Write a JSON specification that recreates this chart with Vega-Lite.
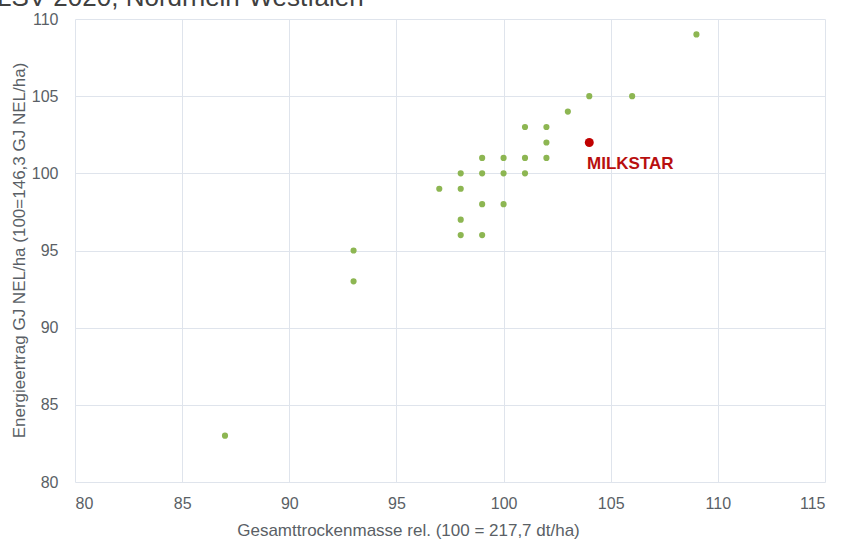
{
  "$schema": "https://vega.github.io/schema/vega-lite/v6.json",
  "width": 750,
  "height": 463,
  "autosize": {"type": "none"},
  "padding": {"left": 75, "top": 19, "right": 17, "bottom": 68},
  "background": "white",
  "title": {
    "text": "LSV 2020, Nordrhein-Westfalen",
    "anchor": "start",
    "frame": "group",
    "dx": -78,
    "offset": 0,
    "baseline": "top",
    "fontSize": 26,
    "font": "Liberation Sans",
    "fontWeight": "normal",
    "color": "#404040"
  },
  "config": {
    "view": {"stroke": null},
    "font": "Liberation Sans",
    "axis": {
      "grid": true,
      "gridColor": "#dfe4ec",
      "gridWidth": 1,
      "domain": false,
      "ticks": false,
      "labelFontSize": 16,
      "labelColor": "#5a5f66",
      "labelFont": "Liberation Sans",
      "titleFont": "Liberation Sans",
      "titleFontSize": 17,
      "titleFontWeight": "normal",
      "titleColor": "#5a5f66"
    }
  },
  "data": {
    "values": [
      {"x": 109, "y": 109, "sorte": "Vergleich"},
      {"x": 104, "y": 105, "sorte": "Vergleich"},
      {"x": 106, "y": 105, "sorte": "Vergleich"},
      {"x": 103, "y": 104, "sorte": "Vergleich"},
      {"x": 101, "y": 103, "sorte": "Vergleich"},
      {"x": 102, "y": 103, "sorte": "Vergleich"},
      {"x": 102, "y": 102, "sorte": "Vergleich"},
      {"x": 99, "y": 101, "sorte": "Vergleich"},
      {"x": 100, "y": 101, "sorte": "Vergleich"},
      {"x": 101, "y": 101, "sorte": "Vergleich"},
      {"x": 102, "y": 101, "sorte": "Vergleich"},
      {"x": 98, "y": 100, "sorte": "Vergleich"},
      {"x": 99, "y": 100, "sorte": "Vergleich"},
      {"x": 100, "y": 100, "sorte": "Vergleich"},
      {"x": 101, "y": 100, "sorte": "Vergleich"},
      {"x": 97, "y": 99, "sorte": "Vergleich"},
      {"x": 98, "y": 99, "sorte": "Vergleich"},
      {"x": 99, "y": 98, "sorte": "Vergleich"},
      {"x": 100, "y": 98, "sorte": "Vergleich"},
      {"x": 98, "y": 97, "sorte": "Vergleich"},
      {"x": 98, "y": 96, "sorte": "Vergleich"},
      {"x": 99, "y": 96, "sorte": "Vergleich"},
      {"x": 93, "y": 95, "sorte": "Vergleich"},
      {"x": 93, "y": 93, "sorte": "Vergleich"},
      {"x": 87, "y": 83, "sorte": "Vergleich"},
      {"x": 104, "y": 102, "sorte": "MILKSTAR"}
    ]
  },
  "encoding": {
    "x": {
      "field": "x",
      "type": "quantitative",
      "scale": {"domain": [80, 115], "nice": false, "zero": false},
      "axis": {
        "values": [80, 85, 90, 95, 100, 105, 110, 115],
        "labelPadding": 13,
        "title": "Gesamttrockenmasse rel.  (100 = 217,7 dt/ha)",
        "titleX": 333,
        "titleY": 48,
        "titleBaseline": "middle",
        "titleAlign": "center"
      }
    },
    "y": {
      "field": "y",
      "type": "quantitative",
      "scale": {"domain": [80, 110], "nice": false, "zero": false},
      "axis": {
        "values": [80, 85, 90, 95, 100, 105, 110],
        "labelPadding": 17,
        "title": "Energieertrag GJ NEL/ha (100=146,3 GJ NEL/ha)",
        "titleX": -56,
        "titleY": 231,
        "titleAngle": 270,
        "titleBaseline": "middle",
        "titleAlign": "center"
      }
    }
  },
  "layer": [
    {
      "transform": [{"filter": "datum.sorte === 'Vergleich'"}],
      "mark": {"type": "circle", "size": 38, "color": "#8db652", "opacity": 1}
    },
    {
      "transform": [{"filter": "datum.sorte === 'MILKSTAR'"}],
      "mark": {"type": "circle", "size": 80, "color": "#c00000", "opacity": 1}
    },
    {
      "transform": [{"filter": "datum.sorte === 'MILKSTAR'"}],
      "mark": {"type": "text", "dx": 41, "dy": 22, "fontSize": 17, "fontWeight": "bold", "color": "#b80f0f", "font": "Liberation Sans"},
      "encoding": {"text": {"field": "sorte"}}
    }
  ]
}
